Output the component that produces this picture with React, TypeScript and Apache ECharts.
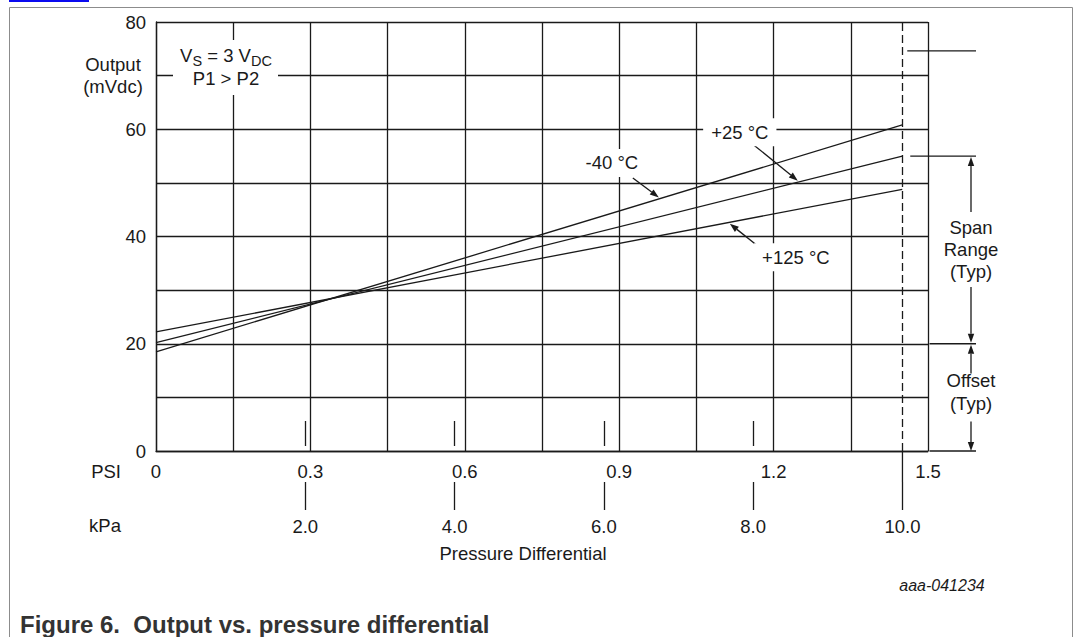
import React, { useEffect, useRef } from "react";
import * as echarts from "echarts";

// ---- Axis scales ----
const PSI_MIN = 0;
const PSI_MAX = 1.5;
const PSI_STEP = 0.15;
const PSI_LABELS = [0, 0.3, 0.6, 0.9, 1.2, 1.5];
const KPA_PER_PSI = 6.89476;
const KPA_UPPER_TICKS = [2, 4, 6, 8];
const KPA_TICKS = [2, 4, 6, 8, 10];
const OUT_MIN = 0;
const OUT_MAX = 80;
const OUT_STEP = 10;
const OUT_LABELS = [0, 20, 40, 60, 80];

// ---- Series (Output mVdc vs pressure in PSI) ----
const PRESSURE_PSI = [0, 1.45];
const OUT_MINUS40 = [18.5, 60.8];
const OUT_PLUS25 = [20.2, 55.0];
const OUT_PLUS125 = [22.2, 48.8];
const SERIES_NAMES = ["-40 °C", "+25 °C", "+125 °C"];

// ---- Reference markers ----
const FULL_SCALE_PSI = 1.45; // 10 kPa
const FULL_MARK_OUT = 74.6;
const SPAN_TOP_OUT = 55;
const OFFSET_TOP_OUT = 20;

// annotation arrow tips, in PSI along each curve
const ARROW_TIP_PSI = [0.977, 1.247, 1.115];

const FONT = "'Liberation Sans', Arial, Helvetica, sans-serif";
const INK = "#1a1a1a";
const FS = 18.5;

export default function App() {
  const ref = useRef<HTMLDivElement>(null);

  useEffect(() => {
    const chart = echarts.init(ref.current!, null, { renderer: "svg" });
    const kpaMax = PSI_MAX * KPA_PER_PSI;
    const toPairs = (vals: number[]) => PRESSURE_PSI.map((p, i) => [p, vals[i]]);
    const lineStyle = { color: INK, width: 1.3 };
    const labelText = { fontSize: FS, color: INK, fontFamily: FONT };

    const psiFmt = (v: number) => {
      const hit = PSI_LABELS.find((l) => Math.abs(l - v) < 1e-6);
      return hit === undefined ? "" : String(hit);
    };
    const outFmt = (v: number) => (OUT_LABELS.some((l) => Math.abs(l - v) < 1e-6) ? String(Math.round(v)) : "");

    const seriesVals = [OUT_MINUS40, OUT_PLUS25, OUT_PLUS125];

    chart.setOption({
      animation: false,
      backgroundColor: "#ffffff",
      grid: { left: 156, right: 148, top: 22, bottom: 186 },
      xAxis: [
        {
          type: "value",
          min: PSI_MIN,
          max: PSI_MAX,
          interval: PSI_STEP,
          position: "bottom",
          axisLine: { show: true, onZero: false, lineStyle },
          axisTick: { show: false },
          axisLabel: { ...labelText, margin: 11, formatter: psiFmt, showMinLabel: true, showMaxLabel: true },
          splitLine: { show: true, lineStyle },
        },
        {
          type: "value",
          min: 0,
          max: kpaMax,
          position: "bottom",
          offset: -5,
          axisLine: { show: false, onZero: false },
          axisTick: { show: true, inside: true, length: 25, customValues: KPA_UPPER_TICKS, lineStyle },
          axisLabel: { show: false },
          splitLine: { show: false },
        },
        {
          type: "value",
          min: 0,
          max: kpaMax,
          position: "bottom",
          offset: 31,
          axisLine: { show: false, onZero: false },
          axisTick: { show: true, inside: false, length: 28, customValues: KPA_TICKS, lineStyle },
          axisLabel: {
            ...labelText,
            show: true,
            margin: 35,
            customValues: KPA_TICKS,
            formatter: (v: number) => v.toFixed(1),
          },
          splitLine: { show: false },
          name: "Pressure Differential",
          nameLocation: "middle",
          nameGap: 62,
          nameTextStyle: { ...labelText, padding: [0, 38, 0, 0] },
        },
      ],
      yAxis: {
        type: "value",
        min: OUT_MIN,
        max: OUT_MAX,
        interval: OUT_STEP,
        axisLine: { show: true, onZero: false, lineStyle },
        axisTick: { show: false },
        axisLabel: { ...labelText, margin: 10, formatter: outFmt, showMinLabel: true, showMaxLabel: true },
        splitLine: { show: true, lineStyle },
      },
      series: seriesVals.map((vals, i) => ({
        type: "line",
        name: SERIES_NAMES[i],
        data: toPairs(vals),
        symbol: "none",
        silent: true,
        lineStyle: { color: INK, width: 1.3 },
        z: 5,
        ...(i === 0
          ? {
              markLine: {
                silent: true,
                symbol: ["none", "none"],
                label: { show: false },
                lineStyle: { color: INK, width: 1.3, type: [8, 4] },
                data: [[{ coord: [FULL_SCALE_PSI, OUT_MIN] }, { coord: [FULL_SCALE_PSI, OUT_MAX] }]],
              },
            }
          : {}),
      })),
    });

    // ---- annotations computed from the chart's own scales ----
    const px = (x: number, y: number) => chart.convertToPixel({ gridIndex: 0 } as any, [x, y]) as number[];
    const yPix = (v: number) => px(PSI_MIN, v)[1];
    const xPix = (p: number) => px(p, OUT_MIN)[0];
    const kpaX = (k: number) => chart.convertToPixel({ xAxisIndex: 2 } as any, k) as number;

    const left = xPix(PSI_MIN);
    const right = xPix(PSI_MAX);
    const top = yPix(OUT_MAX);
    const bottom = yPix(OUT_MIN);
    const fsX = xPix(FULL_SCALE_PSI);

    const els: any[] = [];
    const line = (x1: number, y1: number, x2: number, y2: number, stroke = INK, lw = 1.3) =>
      els.push({ type: "line", z: 60, silent: true, shape: { x1, y1, x2, y2 }, style: { stroke, lineWidth: lw } });
    const arrow = (x1: number, y1: number, x2: number, y2: number, head = 9, half = 3.2) => {
      const dx = x2 - x1;
      const dy = y2 - y1;
      const len = Math.hypot(dx, dy);
      const ux = dx / len;
      const uy = dy / len;
      const bx = x2 - ux * head;
      const by = y2 - uy * head;
      line(x1, y1, bx, by);
      els.push({
        type: "polygon",
        z: 61,
        silent: true,
        shape: { points: [[x2, y2], [bx - uy * half, by + ux * half], [bx + uy * half, by - ux * half]] },
        style: { fill: INK },
      });
    };
    const text = (x: number, y: number, t: string, extra: any = {}) =>
      els.push({
        type: "text",
        z: 70,
        silent: true,
        x,
        y,
        style: {
          text: t,
          fill: INK,
          fontSize: FS,
          fontFamily: FONT,
          align: "center",
          verticalAlign: "middle",
          ...extra,
        },
      });

    // page frame
    els.push({
      type: "rect",
      z: 1,
      silent: true,
      shape: { x: 9.5, y: 7.5, width: 1063, height: 700 },
      style: { fill: "none", stroke: "#8c8c8c", lineWidth: 1 },
    });
    els.push({ type: "rect", z: 1, silent: true, shape: { x: 9, y: 0, width: 80, height: 2 }, style: { fill: "#0b0bf0" } });

    // conditions box
    els.push({
      type: "rect",
      z: 65,
      silent: true,
      shape: { x: left + 17, y: top + 18, width: 105, height: 55 },
      style: { fill: "#ffffff" },
    });
    els.push({
      type: "text",
      z: 70,
      silent: true,
      x: left + 70,
      y: top + 33,
      style: {
        text: "{m|V}{s|S}{m| = 3 V}{s|DC}",
        fill: INK,
        fontFamily: FONT,
        align: "center",
        verticalAlign: "middle",
        rich: {
          m: { fontSize: FS, lineHeight: 20, fontFamily: FONT, fill: INK },
          s: { fontSize: 14.5, lineHeight: 20, padding: [12, 0, 0, 0], fontFamily: FONT, fill: INK },
        },
      },
    });
    text(left + 70, top + 56, "P1 > P2");

    // axis titles
    text(left - 43, top + 53.5, "Output\n(mVdc)", { lineHeight: 22.5 });
    text(left - 35, bottom + 20, "PSI", { align: "right" });
    text(left - 35, bottom + 74, "kPa", { align: "right" });

    // 10 kPa tick continues down to the kPa scale
    line(kpaX(10), bottom, kpaX(10), bottom + 31);

    // curve labels with arrows
    const lineAt = (vals: number[], p: number) =>
      vals[0] + ((vals[1] - vals[0]) * (p - PRESSURE_PSI[0])) / (PRESSURE_PSI[1] - PRESSURE_PSI[0]);
    const tailOff = [
      [-26, -21],
      [-45, -38],
      [27, 23],
    ];
    const labelOff = [
      [-47, -36],
      [-58, -50],
      [66, 35],
    ];
    seriesVals.forEach((vals, i) => {
      const [tx, ty] = px(ARROW_TIP_PSI[i], lineAt(vals, ARROW_TIP_PSI[i]));
      const tipY = ty + (tailOff[i][1] < 0 ? -1.5 : 1.5);
      arrow(tx + tailOff[i][0], ty + tailOff[i][1], tx, tipY);
      text(tx + labelOff[i][0], ty + labelOff[i][1], SERIES_NAMES[i], {
        backgroundColor: "#ffffff",
        padding: [5, 8, 4, 8],
      });
    });

    // right-hand span / offset markers
    const ext = right + 48;
    const ax = right + 43;
    const yFull = yPix(FULL_MARK_OUT);
    const ySpan = yPix(SPAN_TOP_OUT);
    const yOff = yPix(OFFSET_TOP_OUT);
    line(fsX + 5, yFull, ext, yFull);
    line(fsX + 8, ySpan, ext, ySpan);
    line(right + 1.5, yOff, ext, yOff);
    line(right + 1.5, bottom, ext, bottom);

    const midSpan = (ySpan + yOff) / 2;
    arrow(ax, midSpan - 38, ax, ySpan + 1);
    arrow(ax, midSpan + 37, ax, yOff - 1);
    text(ax, midSpan, "Span\nRange\n(Typ)", { lineHeight: 22 });

    const midOff = (yOff + bottom) / 2 - 5;
    arrow(ax, midOff - 19, ax, yOff + 1);
    arrow(ax, midOff + 29, ax, bottom);
    text(ax, midOff, "Offset\n(Typ)", { lineHeight: 23 });

    // figure id and caption
    text(942, 585, "aaa-041234", { fontSize: 16, fontStyle: "italic" });
    text(20, 624, "Figure 6.\u00a0 Output vs. pressure differential", {
      align: "left",
      fontSize: 24,
      fontWeight: "bold",
      fill: "#333333",
    });

    chart.setOption({ graphic: { elements: els } });

    return () => chart.dispose();
  }, []);

  return (
    <div
      ref={ref}
      style={{ position: "fixed", left: 0, top: 0, width: 1076, height: 637, background: "#ffffff" }}
    />
  );
}
